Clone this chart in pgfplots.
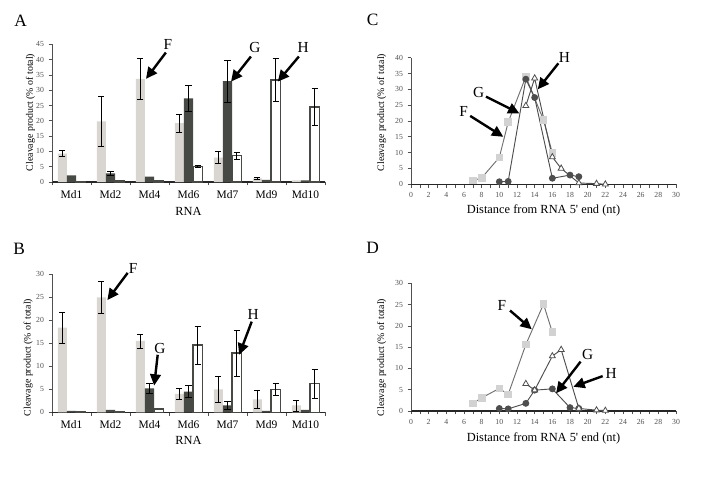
\documentclass[border=0pt]{standalone}
\usepackage{fontspec}
\setmainfont{Liberation Serif}[Ligatures=TeXOff]
\usepackage{pgfplots}
\pgfplotsset{compat=1.18}
\usetikzlibrary{arrows.meta}
\definecolor{lightbar}{HTML}{D9D5D0}
\definecolor{darkbar}{HTML}{474A44}
\definecolor{ticklab}{HTML}{505050}
\definecolor{fline}{HTML}{707070}
\definecolor{fmark}{HTML}{D2D2D2}
\definecolor{gcol}{HTML}{4E4E4E}
\pgfplotsset{
  common/.style={
    scale only axis, clip=false,
    axis lines=left,
    axis line style={-},
    every outer x axis line/.append style={-},
    every outer y axis line/.append style={-},
    every inner x axis line/.append style={-},
    every inner y axis line/.append style={-},
    x axis line style={line width=0.9pt, draw=black!85},
    y axis line style={line width=0.5pt, draw=ticklab},
    tick align=outside,
    major tick length=2.5pt,
    minor tick length=2.5pt,
    tick style={line width=0.5pt, draw=ticklab},
    /pgf/number format/assume math mode=true,
    ticklabel style={font=\fontsize{5.8}{6.5}\selectfont, text=ticklab},
    ymin=0,
    ylabel={Cleavage product (\% of total)},
    ylabel style={font=\fontsize{7.4}{8}\selectfont, anchor=center},
    xlabel style={font=\fontsize{9.3}{10}\selectfont, anchor=center},
  },
  barax/.style={
    common,
    width=204.75pt,
    xmin=-0.5, xmax=6.5,
    xtick={0,...,6},
    xticklabels={Md1,Md2,Md4,Md6,Md7,Md9,Md10},
    xticklabel style={font=\fontsize{8.6}{9}\selectfont, text=black},
    major x tick style={draw=none},
    minor xtick={-0.5,0.5,...,6.5},
    xlabel={RNA},
  },
  lineax/.style={
    common,
    width=198.75pt,
    xmin=0, xmax=30,
    xtick={0,2,...,30},
    minor xtick={1,3,...,29},
    xlabel={Distance from RNA 5' end (nt)},
  },
  lbar/.style={ybar, bar width=0.235, bar shift=-0.235, fill=lightbar, draw=none},
  dbar/.style={ybar, bar width=0.235, bar shift=0, fill=darkbar, draw=none},
  wbar/.style={ybar, bar width=0.235, bar shift=0.235, fill=white, draw=darkbar, line width=1pt},
  errs/.style={draw=none, mark=none, forget plot,
    error bars/.cd, y dir=both, y explicit,
    error bar style={draw=black, line width=0.5pt},
    error mark options={draw=black, rotate=90, mark size=2.3pt, line width=0.5pt}},
  fplot/.style={draw=fline, line width=0.7pt, mark=square*, mark size=2.5pt, mark options={fill=fmark, draw=fmark, solid}},
  gplot/.style={draw=gcol, line width=0.7pt, mark=*, mark size=2.2pt, mark options={fill=gcol, draw=gcol}},
  hplot/.style={draw=gcol, line width=0.7pt, mark=triangle*, mark size=2.6pt, mark options={fill=white, draw=gcol, line width=0.6pt}},
}
\tikzset{
  arr/.style={line width=1.8pt, -{Triangle[length=8.5pt, width=8pt]}},
  lab/.style={font=\fontsize{11.5}{12}\selectfont, anchor=center},
  panel/.style={font=\fontsize{13}{14}\selectfont, anchor=center},
}
\begin{document}
\begin{tikzpicture}
\path[use as bounding box] (0,0) rectangle (540pt,-375.75pt);
\node[panel] at (15.4pt,-15.5pt) {A};
\node[panel] at (14.3pt,-186.4pt) {B};
\node[panel] at (279.4pt,-15pt) {C};
\node[panel] at (279.4pt,-186pt) {D};

% Panel A
\begin{axis}[barax, at={(39pt,-136.5pt)}, anchor=south west,
  height=103.3pt, ymax=45, ytick={0,5,...,45},
  ylabel style={at={(axis description cs:-0.079,0.505)}},
  xlabel style={at={(axis description cs:0.5,0)}, yshift=-22.3pt}]
\addplot[lbar] coordinates {(0,9.3)(1,19.8)(2,33.7)(3,19.2)(4,8.0)(5,1.2)(6,0.5)};
\addplot[dbar] coordinates {(0,2.2)(1,2.8)(2,1.8)(3,27.3)(4,33.0)(5,0.7)(6,0.5)};
\addplot[wbar] coordinates {(0,0.2)(1,0.3)(2,0.5)(3,5.0)(4,8.6)(5,33.3)(6,24.5)};
\addplot[errs] coordinates {(-0.235,9.3) +- (0,0.9) (0.765,19.8) +- (0,8.2) (1.765,33.7) +- (0,6.6) (2.765,19.2) +- (0,2.85) (3.765,8.0) +- (0,1.9) (4.765,1.2) +- (0,0.45)};
\addplot[errs] coordinates {(1,2.8) +- (0,0.6) (3,27.3) +- (0,4.2) (4,33.0) +- (0,6.9)};
\addplot[errs] coordinates {(3.235,5.0) +- (0,0.3) (4.235,8.6) +- (0,1.05) (5.235,33.3) +- (0,7.1) (6.235,24.5) +- (0,6.1)};
\draw[arr] (axis cs:2.42,42.3) -- (axis cs:1.91,33.7);
\node[lab] at (axis cs:2.47,44.8) {F};
\draw[arr] (axis cs:4.6,41) -- (axis cs:4.09,32.8);
\node[lab] at (axis cs:4.7,43.8) {G};
\draw[arr] (axis cs:5.83,41) -- (axis cs:5.29,32.8);
\node[lab] at (axis cs:5.94,43.8) {H};
\end{axis}

% Panel B
\begin{axis}[barax, at={(39pt,-309.2pt)}, anchor=south west,
  height=103.5pt, ymax=30, ytick={0,5,...,30},
  ylabel style={at={(axis description cs:-0.087,0.397)}},
  xlabel style={at={(axis description cs:0.5,0)}, yshift=-20.8pt}]
\addplot[lbar] coordinates {(0,18.4)(1,25.0)(2,15.5)(3,4.0)(4,5.0)(5,2.8)(6,1.5)};
\addplot[dbar] coordinates {(0,0.3)(1,0.5)(2,5.2)(3,4.5)(4,1.5)(5,0.3)(6,0.5)};
\addplot[wbar] coordinates {(0,0.2)(1,0.2)(2,0.7)(3,14.6)(4,12.9)(5,5.0)(6,6.2)};
\addplot[errs] coordinates {(-0.235,18.4) +- (0,3.35) (0.765,25.0) +- (0,3.55) (1.765,15.5) +- (0,1.55) (2.765,4.0) +- (0,1.25) (3.765,5.0) +- (0,2.85) (4.765,2.8) +- (0,1.9) (5.765,1.5) +- (0,1.2)};
\addplot[errs] coordinates {(2,5.2) +- (0,1.0) (3,4.5) +- (0,1.35) (4,1.5) +- (0,0.8)};
\addplot[errs] coordinates {(3.235,14.6) +- (0,4.1) (4.235,12.9) +- (0,5.0) (5.235,5.0) +- (0,1.3) (6.235,6.2) +- (0,3.1)};
\draw[arr] (axis cs:1.44,30.3) -- (axis cs:0.92,24.4);
\node[lab] at (axis cs:1.58,31.3) {F};
\draw[arr] (axis cs:2.21,12.5) -- (axis cs:2.12,5.8);
\node[lab] at (axis cs:2.27,13.9) {G};
\draw[arr] (axis cs:4.62,19.7) -- (axis cs:4.30,12.5);
\node[lab] at (axis cs:4.66,21.2) {H};
\end{axis}

% Panel C
\begin{axis}[lineax, at={(308.25pt,-138.2pt)}, anchor=south west,
  height=94.95pt, ymax=40, ytick={0,5,...,40},
  ylabel style={at={(axis description cs:-0.111,0.567)}},
  xlabel style={at={(axis description cs:0.5,0)}, yshift=-20pt}]
\addplot[fplot] coordinates {(7,1.2)(8,2.0)(10,8.5)(11,19.6)(13,34.0)(15,20.3)(16,9.9)};
\addplot[gplot] coordinates {(10,0.8)(11,0.9)(13,33.2)(14,27.4)(16,1.9)(18,2.9)(19,2.4)};
\addplot[hplot] coordinates {(13,24.8)(14,33.5)(16,8.6)(17,5.0)(19,0.4)(21,0.2)(22,0.0)};
\draw[arr] (axis cs:6.7,21.6) -- (axis cs:10.45,15.0);
\node[lab] at (axis cs:5.95,22.9) {F};
\draw[arr] (axis cs:8.49,27.7) -- (axis cs:12.27,22.4);
\node[lab] at (axis cs:7.67,29.1) {G};
\draw[arr] (axis cs:16.68,38.2) -- (axis cs:14.35,30.0);
\node[lab] at (axis cs:17.36,40.2) {H};
\end{axis}

% Panel D
\begin{axis}[lineax, at={(308.25pt,-308.25pt)}, anchor=south west,
  height=95.8pt, ymax=30, ytick={0,5,...,30},
  ylabel style={at={(axis description cs:-0.111,0.419)}},
  xlabel style={at={(axis description cs:0.5,0)}, yshift=-20.3pt}]
\addplot[fplot] coordinates {(7,1.8)(8,3.1)(10,5.3)(11,3.9)(13,15.6)(15,25.1)(16,18.5)};
\addplot[gplot] coordinates {(10,0.6)(11,0.5)(13,1.8)(14,4.9)(16,5.2)(18,0.8)(19,0.6)};
\addplot[hplot] coordinates {(13,6.4)(14,4.9)(16,12.9)(17,14.4)(19,0.6)(21,0.2)(22,0.1)};
\draw[arr] (axis cs:11.21,23.6) -- (axis cs:13.67,19.2);
\node[lab] at (axis cs:10.3,24.9) {F};
\draw[arr] (axis cs:19.2,11.6) -- (axis cs:16.42,4.16);
\node[lab] at (axis cs:19.99,13.2) {G};
\draw[arr] (axis cs:21.7,8.2) -- (axis cs:18.38,5.7);
\node[lab] at (axis cs:22.65,8.86) {H};
\end{axis}
\end{tikzpicture}
\end{document}
